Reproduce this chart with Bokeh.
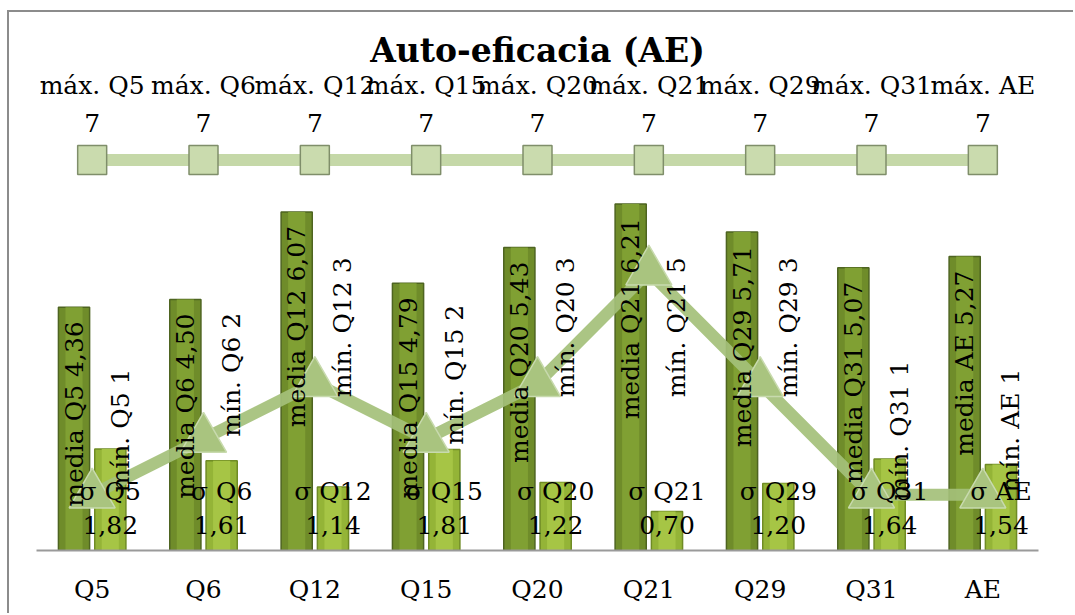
import math
from bokeh.plotting import figure
from bokeh.models import ColumnDataSource, Label, FactorRange, Range1d
from bokeh.transform import dodge
from bokeh.core.properties import value
from bokeh.embed import file_html
from bokeh.resources import INLINE

# ---- data ----
categorias = ["Q5", "Q6", "Q12", "Q15", "Q20", "Q21", "Q29", "Q31", "AE"]
media = [4.36, 4.50, 6.07, 4.79, 5.43, 6.21, 5.71, 5.07, 5.27]
sigma = [1.82, 1.61, 1.14, 1.81, 1.22, 0.70, 1.20, 1.64, 1.54]
minimo = [1, 2, 3, 2, 3, 5, 3, 1, 1]
maximo = [7, 7, 7, 7, 7, 7, 7, 7, 7]
titulo = "Auto-eficacia (AE)"

def fmt(v):
    return f"{v:.2f}".replace(".", ",")

FONT = "DejaVu Serif"
FS = "25px"

src = ColumnDataSource(dict(
    cat=categorias,
    media=media,
    sigma=sigma,
    minimo=minimo,
    maximo=maximo,
    base=[0] * len(categorias),
    min_lab_y=[min(v + 1.15, 4.0) for v in minimo],
    lab_media=[f"media {c} {fmt(v)}" for c, v in zip(categorias, media)],
    lab_sigma=[f"σ {c}\n{fmt(v)}" for c, v in zip(categorias, sigma)],
    lab_min=[f"mín. {c} {v}" for c, v in zip(categorias, minimo)],
    lab_max=[f"máx. {c}\n{v}" for c, v in zip(categorias, maximo)],
))

p = figure(
    x_range=FactorRange(*categorias, range_padding=0),
    y_range=Range1d(0, 9.645),
    width=1066, height=603,
    output_backend="svg", toolbar_location=None,
    min_border_left=27, min_border_right=37,
    min_border_top=0, min_border_bottom=65,
)
# outer chart border (only left/top visible in the original crop)
p.styles = {"margin-left": "7px", "margin-top": "10px",
            "border-left": "2px solid #8c8c8c", "border-top": "2px solid #8c8c8c"}
p.outline_line_color = None
p.xgrid.visible = False
p.ygrid.visible = False
p.yaxis.visible = False
p.background_fill_color = "white"
p.border_fill_color = "white"

xa = p.xaxis[0]
xa.axis_line_color = "#9a9a9a"
xa.axis_line_width = 2
xa.major_tick_line_color = None
xa.minor_tick_line_color = None
xa.major_label_text_font = FONT
xa.major_label_text_font_size = FS
xa.major_label_text_color = "black"
xa.major_label_standoff = 18

OFF = 0.163
BW = 0.28
x_media = dodge("cat", -OFF, range=p.x_range)
x_sigma = dodge("cat", OFF, range=p.x_range)

# bars
p.vbar(x=x_media, top="media", width=BW, source=src,
       fill_color="#6F8C2A", line_color="#4E6421", line_width=1.5)
p.vbar(x=x_media, top="media", width=BW * 0.55, source=src,
       fill_color="#80A033", line_color=None)
p.vbar(x=x_sigma, top="sigma", width=BW, source=src,
       fill_color="#94B437", line_color="#6F8B25", line_width=1.5)
p.vbar(x=x_sigma, top="sigma", width=BW * 0.55, source=src,
       fill_color="#A6C545", line_color=None)

# max line
p.line(x="cat", y="maximo", source=src, line_color="#C5D8A8", line_width=12)
p.scatter(x="cat", y="maximo", source=src, marker="square", size=29,
          fill_color="#CADBAE", line_color="#7F8E6A", line_width=1.5)

# min line
p.line(x="cat", y="minimo", source=src, line_color="#A4C079", line_width=12,
       line_alpha=0.92)
p.scatter(x="cat", y="minimo", source=src, marker="triangle", size=46,
          fill_color="#A9C47F", line_color="#C8DAAE", line_width=1.5)

# labels
p.text(x="cat", y="maximo", text="lab_max", source=src,
       text_font=value(FONT), text_font_size=FS, text_color="black",
       text_align="center", text_baseline="bottom", text_line_height=1.3,
       y_offset=-22)
p.text(x=x_sigma, y="base", text="lab_sigma", source=src,
       text_font=value(FONT), text_font_size=FS, text_color="black",
       text_align="center", text_baseline="bottom", text_line_height=1.2,
       y_offset=-10)
p.text(x="cat", y="min_lab_y", text="lab_min", source=src,
       text_font=value(FONT), text_font_size=FS, text_color="black",
       text_align="center", text_baseline="middle", angle=math.pi / 2,
       x_offset=28)
p.text(x=x_media, y="media", text="lab_media", source=src,
       text_font=value(FONT), text_font_size=FS, text_color="black",
       text_align="right", text_baseline="middle", angle=math.pi / 2,
       y_offset=14)

p.add_layout(Label(x=len(categorias) / 2, y=8.96, text=titulo,
                   text_font=FONT, text_font_size="33px", text_font_style="bold",
                   text_color="black", text_align="center", text_baseline="middle"))

open("out.html", "w").write(file_html(p, INLINE))
